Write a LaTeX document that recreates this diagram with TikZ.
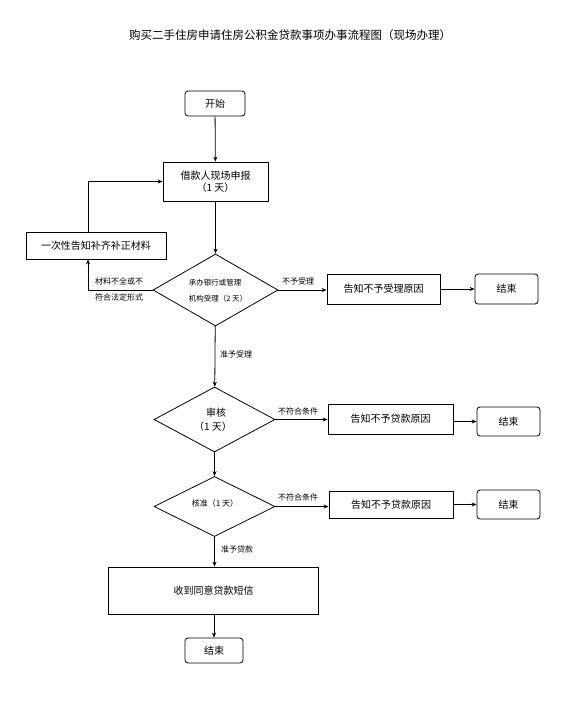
\documentclass[tikz,border=0pt]{standalone}
\usepackage{fontspec}
\setmainfont{Noto Sans CJK SC}
\usetikzlibrary{shapes.geometric,arrows.meta}
\begin{document}
\begin{tikzpicture}[x=1pt,y=-1pt,
  box/.style={draw,line width=0.8pt,inner sep=0pt,font=\fontsize{10}{12}\selectfont,align=center},
  rbox/.style={box,rounded corners=3pt},
  dia/.style={draw,diamond,line width=0.8pt,inner sep=0pt},
  lbl/.style={font=\fontsize{8}{9}\selectfont,inner sep=0pt},
  dtxt/.style={font=\fontsize{7.5}{9}\selectfont,inner sep=0pt},
  arr/.style={line width=0.8pt,-{Stealth[length=5pt,width=4pt]}},
  ln/.style={line width=0.8pt}]
\useasboundingbox[fill=white] (0,0) rectangle (560,707);
\node[font=\fontsize{11.5}{13}\selectfont] (title) at (290,35) {购买二手住房申请住房公积金贷款事项办事流程图（现场办理）};
\node[rbox,minimum width=60pt,minimum height=25pt] (start) at (215,103.5) {开始};
\node[box,minimum width=105pt,minimum height=39pt] (apply) at (215.5,181.5) {借款人现场申报\\（1 天）};
\node[box,minimum width=140pt,minimum height=27pt] (supp) at (96,245.5) {一次性告知补齐补正材料};
\node[dia,minimum width=125pt,minimum height=72pt] (d1) at (215.5,290) {};
\node[box,minimum width=113pt,minimum height=30pt] (r1) at (383.5,289) {告知不予受理原因};
\node[rbox,minimum width=63pt,minimum height=30pt] (e1) at (506.5,289) {结束};
\node[dia,minimum width=121pt,minimum height=65pt] (d2) at (214.5,419.5) {};
\node[box,minimum width=125pt,minimum height=30pt] (r2) at (390.5,419) {告知不予贷款原因};
\node[rbox,minimum width=63pt,minimum height=29pt] (e2) at (508.5,421.5) {结束};
\node[dia,minimum width=121pt,minimum height=60pt] (d3) at (214.5,506.5) {};
\node[box,minimum width=124pt,minimum height=27pt] (r3) at (391,504.5) {告知不予贷款原因};
\node[rbox,minimum width=63pt,minimum height=29pt] (e3) at (508.5,504.5) {结束};
\node[box,minimum width=210pt,minimum height=47pt] (sms) at (213.5,590.5) {收到同意贷款短信};
\node[rbox,minimum width=58pt,minimum height=25pt] (e4) at (214,650.5) {结束};
% diamond texts
\node[dtxt] (d1a) at (215,283) {承办银行或管理};
\node[dtxt] (d1b) at (218,299) {机构受理（2 天）};
\node[box,draw=none] (d2a) at (216,412.5) {审核};
\node[box,draw=none] (d2b) at (213,426.5) {（1 天）};
\node[dtxt,font=\fontsize{8}{9}\selectfont] (d3a) at (215,503) {核准（1 天）};
% labels
\node[lbl,anchor=west] (l1a) at (95,281) {材料不全或不};
\node[lbl,anchor=west] (l1b) at (95,297) {符合法定形式};
\node[lbl,anchor=west] (l2) at (282,281) {不予受理};
\node[lbl,anchor=west] (l3) at (220,354) {准予受理};
\node[lbl,anchor=west] (l4) at (278,411) {不符合条件};
\node[lbl,anchor=west] (l5) at (278,497) {不符合条件};
\node[lbl,anchor=west] (l6) at (221,549) {准予贷款};
% connectors
\draw[arr] (start) -- (apply);
\draw[arr] (apply) -- (d1);
\draw[arr] (d1.west) -| ([xshift=-8pt]supp.south);
\draw[arr] ([xshift=-8pt]supp.north) |- (apply.west);
\draw[arr] (d1.east) -- (d1.east -| r1.west);
\draw[arr] (r1) -- (e1);
\draw[arr] (d1) -- (d2);
\draw[arr] (d2.east) -- (d2.east -| r2.west);
\draw[arr] (r2.east |- e2.west) -- (e2.west);
\draw[arr] (d2) -- (d3);
\draw[arr] (d3.east) -- (d3.east -| r3.west);
\draw[arr] (r3) -- (e3);
\draw[arr] (d3.south) -- (d3.south |- sms.north);
\draw[arr] (sms.south -| e4.north) -- (e4);
\end{tikzpicture}
\end{document}
